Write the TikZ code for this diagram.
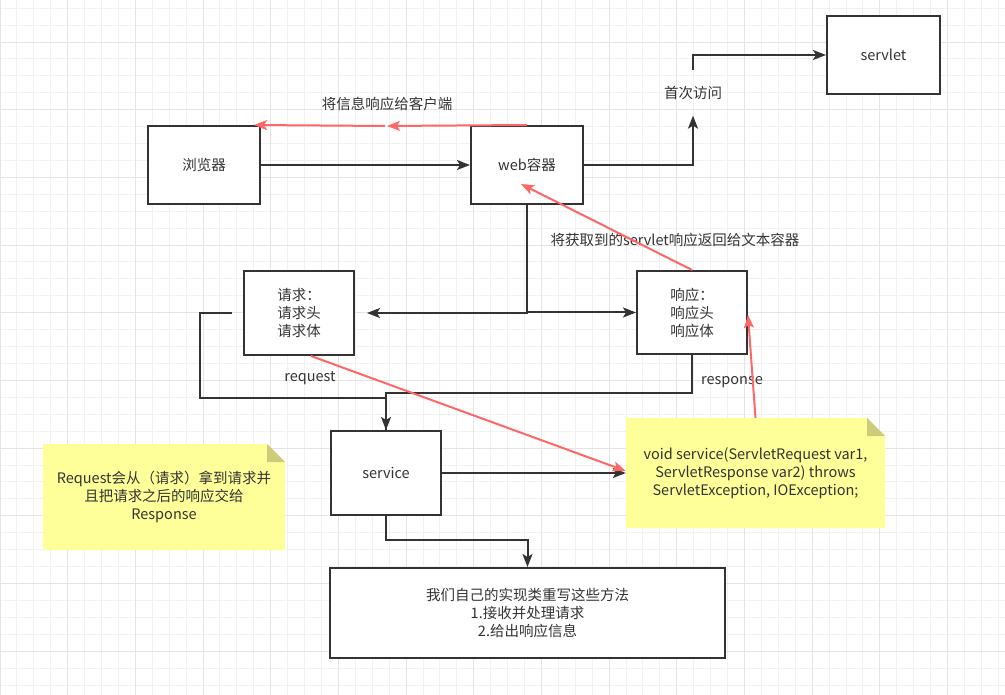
\documentclass[tikz,border=0pt]{standalone}
\usepackage{fontspec}
\setmainfont{Noto Sans CJK SC}
\usetikzlibrary{arrows.meta,calc}
\definecolor{dk}{HTML}{333333}
\definecolor{rd}{HTML}{FF6666}
\definecolor{notey}{HTML}{FFFF99}
\definecolor{foldc}{HTML}{CCCC7A}
\definecolor{gminor}{HTML}{F1F1F1}
\definecolor{gmajor}{HTML}{E4E4E4}
\tikzset{
  minorline/.style={draw=gminor, line width=1pt},
  majorline/.style={draw=gmajor, line width=1pt},
  box/.style={draw=dk, line width=2pt, fill=white, inner sep=0pt, align=center},
  lbl/.style={inner sep=0pt, align=center},
  dkline/.style={draw=dk, line width=2pt},
  dkarrow/.style={dkline, -{Stealth[length=13pt,width=10pt,inset=3pt]}},
  rdarrow/.style={draw=rd, line width=2pt, -{Stealth[length=13pt,width=10pt,inset=3pt]}},
  note/.style={draw=none, inner sep=0pt, align=center,
    path picture={
      \fill[notey] (path picture bounding box.north west)
        -- ([xshift=-18pt]path picture bounding box.north east)
        -- ([yshift=-18pt]path picture bounding box.north east)
        -- (path picture bounding box.south east)
        -- (path picture bounding box.south west) -- cycle;
      \fill[foldc] ([xshift=-18pt]path picture bounding box.north east)
        -- ([xshift=-18pt,yshift=-18pt]path picture bounding box.north east)
        -- ([yshift=-18pt]path picture bounding box.north east) -- cycle;
    }}
}
\begin{document}
\begin{tikzpicture}[x=1pt,y=-1pt, font=\fontsize{14.5}{18}\selectfont, text=dk]
\useasboundingbox (0,0) rectangle (1005,695);
\fill[white] (0,0) rectangle (1005,695);
\foreach \i in {0,...,59} \draw[minorline] ({\i*16.92},0) -- ({\i*16.92},695);
\foreach \j in {0,...,40} \draw[minorline] (0,{8.2+\j*16.92}) -- (1005,{8.2+\j*16.92});
\foreach \i in {0,...,14} \draw[majorline] ({\i*67.68},0) -- ({\i*67.68},695);
\foreach \j in {0,...,10} \draw[majorline] (0,{-25.48+\j*67.68}) -- (1005,{-25.48+\j*67.68});

% nodes
\node[box, minimum width=112pt, minimum height=78pt] (browser) at (204,165) {浏览器};
\node[box, minimum width=112pt, minimum height=78pt] (web) at (527,165) {web容器};
\node[box, minimum width=113pt, minimum height=78pt] (servlet) at (883.5,55) {servlet};
\node[box, minimum width=110pt, minimum height=84pt] (req) at (299,313) {请求：\\请求头\\请求体};
\node[box, minimum width=110pt, minimum height=83pt] (resp) at (692,312.5) {响应：\\响应头\\响应体};
\node[box, minimum width=110pt, minimum height=84pt] (service) at (386,473) {service};
\node[box, minimum width=395pt, minimum height=90pt] (impl) at (527.5,613) {我们自己的实现类重写这些方法\\1.接收并处理请求\\2.给出响应信息};
\node[note, minimum width=259pt, minimum height=110pt] (noteR) at (755.5,473)
  {void service(ServletRequest var1,\\ServletResponse var2) throws\\ServletException, IOException;};
\node[note, minimum width=242pt, minimum height=106pt] (noteL) at (164,497)
  {Request会从（请求）拿到请求并\\且把请求之后的响应交给\\Response};

% labels
\node[lbl, inner ysep=16pt, inner xsep=2pt] (shouci) at (693,92.7) {首次访问};
\node[lbl] (lblinfo) at (387,104) {将信息响应给客户端};
\node[lbl] (lblret) at (675,240) {将获取到的servlet响应返回给文本容器};
\node[lbl] (lblreq) at (310,378) {request};
\node[lbl] (lblresp) at (732,382) {response};

% dark connectors
\draw[dkarrow] (browser.east) -- (web.west);
\draw[dkarrow] (web.east) -| (shouci.south);
\draw[dkarrow] (shouci.north) |- (servlet.west);
\draw[dkarrow] (web.south) |- ([xshift=12pt]req.east);
\draw[dkarrow] (web.south) |- (resp.west);
\coordinate (reqbend) at (200,397.7);
\coordinate (respbend) at (386,393);
\draw[dkline] ([xshift=-11pt]req.west) -| (reqbend) -| (service.north);
\draw[dkarrow] (resp.south) |- (respbend) -- (service.north);
\draw[dkarrow] (service.east) -- (noteR.west);
\draw[dkarrow] (service.south) |- ($(impl.north)+(0,-27)$) -- (impl.north);

% red connectors
\coordinate (redmid) at (387,126);
\draw[rdarrow] (web.north) -- (redmid);
\draw[rdarrow] ([xshift=-2pt]redmid) -- ([xshift=-7pt]browser.north east);
\draw[rdarrow] ([xshift=12pt]req.south) -- ([yshift=2pt]noteR.west);
\draw[rdarrow] (noteR.north) -- ([yshift=-2.5pt]resp.east);
\draw[rdarrow] (resp.north) -- ([xshift=-6pt,yshift=-19pt]web.center);
\end{tikzpicture}
\end{document}
